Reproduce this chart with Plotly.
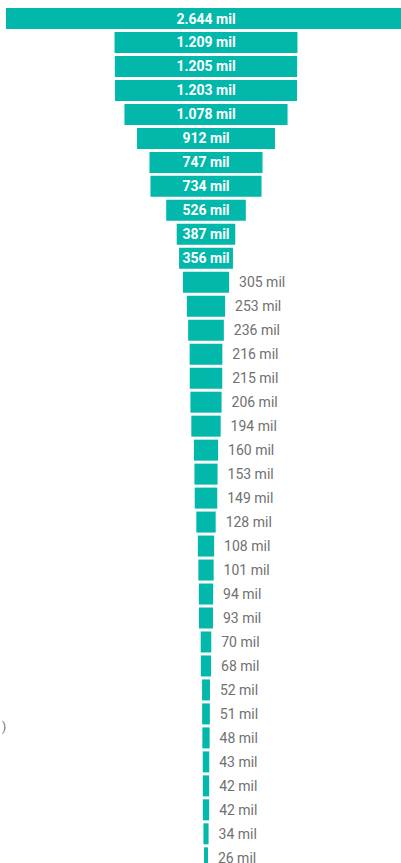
import plotly.graph_objects as go

# Values in thousands, largest to smallest
values = [2644, 1209, 1205, 1203, 1078, 912, 747, 734, 526, 387, 356,
          305, 253, 236, 216, 215, 206, 194, 160, 153, 149, 128, 108, 101,
          94, 93, 70, 68, 52, 51, 48, 43, 42, 42, 34, 26]

# Labels sit inside the wide bars and to the right of the narrow ones
n_inside = 11
positions = ["inside"] * n_inside + ["outside"] * (len(values) - n_inside)
templates = ["%{x:,.0f} mil"] * n_inside + \
            ["\u00a0\u00a0%{x:,.0f} mil"] * (len(values) - n_inside)

TEAL = "#01B8AA"
GREY = "#707070"
H = 863

fig = go.Figure(go.Funnel(
    x=values,
    orientation="h",
    marker=dict(color=TEAL, line=dict(width=0)),
    connector=dict(visible=False),
    textposition=positions,
    texttemplate=templates,
    constraintext="none",
    insidetextfont=dict(family="Roboto", size=14, color="white", weight="bold"),
    outsidetextfont=dict(family="Roboto", size=14, color=GREY),
    hoverinfo="x",
))

fig.add_annotation(
    text=")", x=0, y=1 - 727 / H, xref="paper", yref="paper",
    xanchor="left", yanchor="middle", showarrow=False,
    font=dict(family="Roboto", size=12, color=GREY),
)

fig.update_layout(
    width=401, height=H,
    margin=dict(l=0, r=0, t=0, b=0),
    paper_bgcolor="white", plot_bgcolor="white",
    separators=",.",
    showlegend=False,
    funnelgap=0.124,
    xaxis=dict(visible=False, range=[-1361.6, 1288.9]),
    yaxis=dict(visible=False, range=[35.217, -0.7715]),
)

fig.write_html("out.html")
